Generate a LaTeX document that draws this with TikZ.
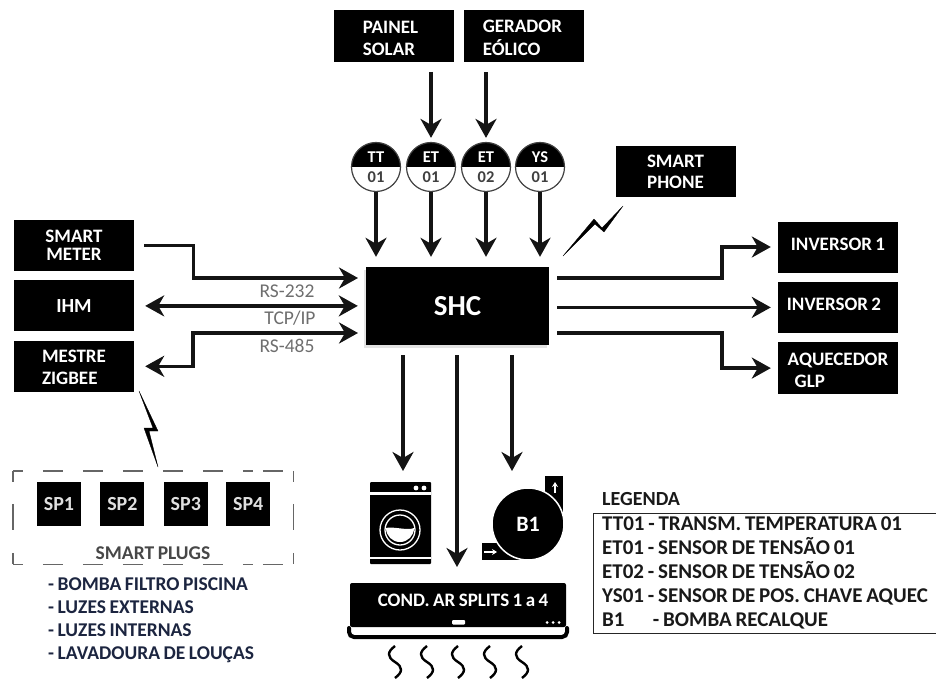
\documentclass[tikz,border=0pt]{standalone}
\usepackage{fontspec}
\setmainfont{Carlito}[WordSpace=0.8]
\usepackage{tikz}
\usetikzlibrary{arrows.meta,calc,positioning,shadows}
\definecolor{inknavy}{HTML}{1C2540}
\definecolor{labelgray}{HTML}{6E6E6E}
\newcommand{\heatline}[1]{\draw[heat,xshift=#1pt] (0,646) .. controls (-8,652) and (-8,657) .. (0,662) .. controls (8,667) and (8,672) .. (0,678);}

\begin{document}
\begin{tikzpicture}[x=1pt,y=-1pt,>={Stealth[length=19pt,width=21pt,inset=6pt]},node distance=9pt,font=\bfseries\fontsize{19}{22}\selectfont]
\tikzstyle{blackbox}=[fill=black,text=white,align=center,inner sep=0pt,minimum width=120pt,minimum height=51pt]
\tikzstyle{plugbox}=[fill=black,text=white!88!black,inner sep=0pt,minimum width=44pt,minimum height=44pt,font=\bfseries\fontsize{20}{22}\selectfont]
\tikzstyle{sensor}=[circle,draw=black!75,line width=1.2pt,inner sep=0pt,minimum size=49pt,align=center,font=\bfseries\fontsize{16.5}{20}\selectfont,text=black!75,path picture={\fill[black] (path picture bounding box.west) rectangle (path picture bounding box.north east);}]
\tikzstyle{conn}=[line width=3.4pt,color=black!92]
\tikzstyle{bolt}=[fill=black,draw=black,line width=0.3pt,line join=round]
\tikzstyle{bus}=[font=\fontsize{19.5}{22}\selectfont,text=labelgray,inner sep=0pt]
\tikzstyle{dashline}=[draw=black!60,line width=1.4pt]
\tikzstyle{heat}=[line width=2.4pt,draw=black]
\useasboundingbox (0,0) rectangle (936,679);

% sources on top
\node[blackbox] (painel) at (394,36) {\hspace*{-7pt}\begin{tabular}{@{}l@{}}\rule{0pt}{23pt}PAINEL\\SOLAR\end{tabular}};
\node[blackbox,right=10pt of painel] (gerador) {\hspace*{-4pt}\begin{tabular}{@{}l@{}}\rule{0pt}{23pt}GERADOR\\EÓLICO\end{tabular}};
\node[sensor] (tt01) at (376,167) {\textcolor{white}{TT}\\01};
\node[sensor] (et01) at (431,167) {\textcolor{white}{ET}\\01};
\node[sensor] (et02) at (486,167) {\textcolor{white}{ET}\\02};
\node[sensor] (ys01) at (540,167) {\textcolor{white}{YS}\\01};
\node[blackbox] (phone) at (675.5,171.5) {SMART\\[-1pt]PHONE};

% controller
\node[fill=black,text=white,minimum width=183pt,minimum height=78pt,inner sep=0pt,font=\bfseries\fontsize{29}{29}\selectfont,drop shadow={opacity=0.22,shadow xshift=-2pt,shadow yshift=-3pt}] (shc) at (457.5,306) {SHC};
\coordinate (shcl1) at (366,278);
\coordinate (shcl3) at (366,333);
\coordinate (shcr1) at (549,278);
\coordinate (shcr3) at (549,333);

% left side
\node[blackbox] (meter) at (74,245.5) {SMART\\[-4pt]METER};
\node[blackbox,below=of meter,font=\bfseries\fontsize{20}{22}\selectfont] (ihm) {IHM};
\node[blackbox,below=of ihm] (mestre) {\begin{tabular}{@{}l@{}}\rule{0pt}{21pt}MESTRE\\ZIGBEE\end{tabular}};
\node[bus] (rs232) at (287,291) {RS-232};
\node[bus] (tcpip) at (290,318) {TCP/IP};
\node[bus] (rs485) at (287,346) {RS-485};

% right side
\node[blackbox,text height=12pt,text depth=6pt] (inv1) at (838,247) {INVERSOR 1};
\node[blackbox,text height=12pt,text depth=6pt,below=of inv1] (inv2) {\hspace*{-8pt}INVERSOR 2};
\node[blackbox,below=of inv2] (aquec) {\begin{tabular}{@{}l@{}}\rule{0pt}{23pt}AQUECEDOR\\\hspace*{7pt}GLP\end{tabular}};

% smart plugs
\node[minimum width=280pt,minimum height=93pt,inner sep=0pt] (plugs) at (153,517.5) {};
\node[plugbox] (sp1) at (59,504) {SP1};
\node[plugbox,right=19pt of sp1] (sp2) {SP2};
\node[plugbox,right=19pt of sp2] (sp3) {SP3};
\node[plugbox,right=18pt of sp3] (sp4) {SP4};
\node[text=black!72,inner sep=0pt,font=\bfseries\fontsize{19.5}{22}\selectfont] (plugname) at (153,553) {SMART PLUGS};
\draw[dashline,dash pattern=on 10pt off 20pt on 20pt off 20pt on 20pt off 20pt on 20pt off 20pt on 20pt off 20pt on 20pt off 20pt on 10pt] (plugs.north west) -- (plugs.north east);
\draw[dashline,dash pattern=on 10pt off 20pt on 20pt off 20pt on 20pt off 20pt on 20pt off 20pt on 20pt off 20pt on 20pt off 20pt on 10pt] (plugs.south west) -- (plugs.south east);
\draw[dashline,dash pattern=on 11pt off 22pt on 26pt off 23pt on 11pt] (plugs.north west) -- (plugs.south west);
\draw[dashline,dash pattern=on 11pt off 22pt on 26pt off 23pt on 11pt] (plugs.north east) -- (plugs.south east);
\node[text=inknavy,align=left,inner sep=0pt,anchor=north west,font=\bfseries\fontsize{19.5}{22.7}\selectfont] (loads) at (48,578) {- BOMBA FILTRO PISCINA\\- LUZES EXTERNAS\\- LUZES INTERNAS\\- LAVADOURA DE LOUÇAS};

% washer
\node[fill=black,rounded corners=1pt,minimum width=61pt,minimum height=82pt,inner sep=0pt] (washer) at (400.5,523) {};
\coordinate (washerin) at (403,471);
\fill[white] (370,492) rectangle (431,494.5);
\fill[white] (370,556.5) rectangle (431,559);
\fill[white] (416,488) circle (2.4pt) (424,488) circle (2.4pt);
\draw[white,line width=1.3pt] (400,530) circle (20pt);
\draw[white,line width=1.3pt] (400,530) circle (15pt);
\fill[white] (386,528) arc (180:0:14pt and -14pt) .. controls (408,531) and (392,526) .. cycle;

% pump
\fill[black] (545,476) rectangle (563,518);
\fill[black] (482,543) rectangle (520,560);
\node[circle,fill=black,draw=white,line width=1.5pt,text=white,inner sep=0pt,minimum size=72pt,font=\bfseries\fontsize{22}{22}\selectfont] (b1) at (528,524) {B1};
\coordinate (b1in) at (512,471);
\draw[white,line width=1.6pt,-{Stealth[length=5pt,width=6pt]}] (555,493) -- (555,482);
\draw[white,line width=1.6pt,-{Stealth[length=5pt,width=6pt]}] (484,552) -- (497,552);

% air conditioner
\node[fill=black,rounded corners=2pt,minimum width=216pt,minimum height=44pt,inner sep=0pt] (split) at (458,605) {};
\node[text=white,inner sep=0pt,font=\bfseries\fontsize{19}{22}\selectfont] (splitname) at (463,600) {COND. AR SPLITS 1 a 4};
\coordinate (splitin) at (457,567);
\fill[white,rounded corners=1pt] (452,620) rectangle (465,624.5);
\fill[white] (547,622.5) circle (1.5pt) (553,622.5) circle (1.5pt) (559,622.5) circle (1.5pt);
\draw[line width=4pt,rounded corners=5pt,line cap=round] (349,628) |- (567,637) -- (567,628);
\heatline{395}
\heatline{427}
\heatline{458}
\heatline{490}
\heatline{522}

% legend
\node[text=black!90,inner sep=0pt,anchor=west,font=\bfseries\fontsize{20}{22}\selectfont] (legendtitle) at (602,499) {LEGENDA};
\node[text=black!90,align=left,anchor=north west,inner sep=0pt,minimum height=120pt,font=\bfseries\fontsize{21}{24}\selectfont] (legend) at (602,513) {TT01 - TRANSM. TEMPERATURA 01\\ET01 - SENSOR DE TENSÃO 01\\ET02 - SENSOR DE TENSÃO 02\\YS01 - SENSOR DE POS. CHAVE AQUEC\\B1\hspace{1.35em}- BOMBA RECALQUE};
\coordinate (legendedge) at (936,513);
\draw[line width=1pt,draw=black!85] (legendedge) -| ($(legend.south west)+(-9,0)$) -- (legendedge |- legend.south);

% connectors
\draw[conn,->,shorten <=10pt,shorten >=4pt] (painel.south -| et01.north) -- (et01.north);
\draw[conn,->,shorten <=10pt,shorten >=4pt] (gerador.south -| et02.north) -- (et02.north);
\draw[conn,->,shorten >=10pt] (tt01.south) -- (shc.north -| tt01.south);
\draw[conn,->,shorten >=10pt] (et01.south) -- (shc.north -| et01.south);
\draw[conn,->,shorten >=10pt] (et02.south) -- (shc.north -| et02.south);
\draw[conn,->,shorten >=10pt] (ys01.south) -- (shc.north -| ys01.south);
\draw[conn,->,shorten <=10pt,shorten >=8pt] (meter.east) -- ++(59,0) |- (shcl1);
\draw[conn,<->,shorten <=11pt,shorten >=8pt] (ihm.east) -- (ihm.east -| shc.west);
\draw[conn,<->,shorten <=8pt,shorten >=11pt] (shcl3) -- ++(-173,0) |- (mestre.east);
\draw[conn,->,shorten <=8pt,shorten >=7pt] (shcr1) -- ++(173,0) |- (inv1.west);
\draw[conn,->,shorten <=8pt,shorten >=7pt] (inv2.west -| shc.east) -- (inv2.west);
\draw[conn,->,shorten <=8pt,shorten >=7pt] (shcr3) -- ++(173,0) |- (aquec.west);
\draw[conn,->,shorten <=10pt] (shc.south -| washerin) -- (washerin);
\draw[conn,->,shorten <=10pt] (shc.south -| splitin) -- (splitin);
\draw[conn,->,shorten <=10pt] (shc.south -| b1in) -- (b1in);

% wireless links
\coordinate (phonelink) at (623,206);
\coordinate (shclink) at (563,256);
\coordinate (mestrelink) at (139,391);
\coordinate (pluglink) at (158,467);
\draw[bolt] (shclink) -- (594,219) -- (602,228) -- (phonelink) -- (604,232) -- (595,224) -- cycle;
\draw[bolt] (mestrelink) -- (158,431) -- (149,431) -- (pluglink) -- (144,428) -- (153,428) -- cycle;
\end{tikzpicture}
\end{document}
